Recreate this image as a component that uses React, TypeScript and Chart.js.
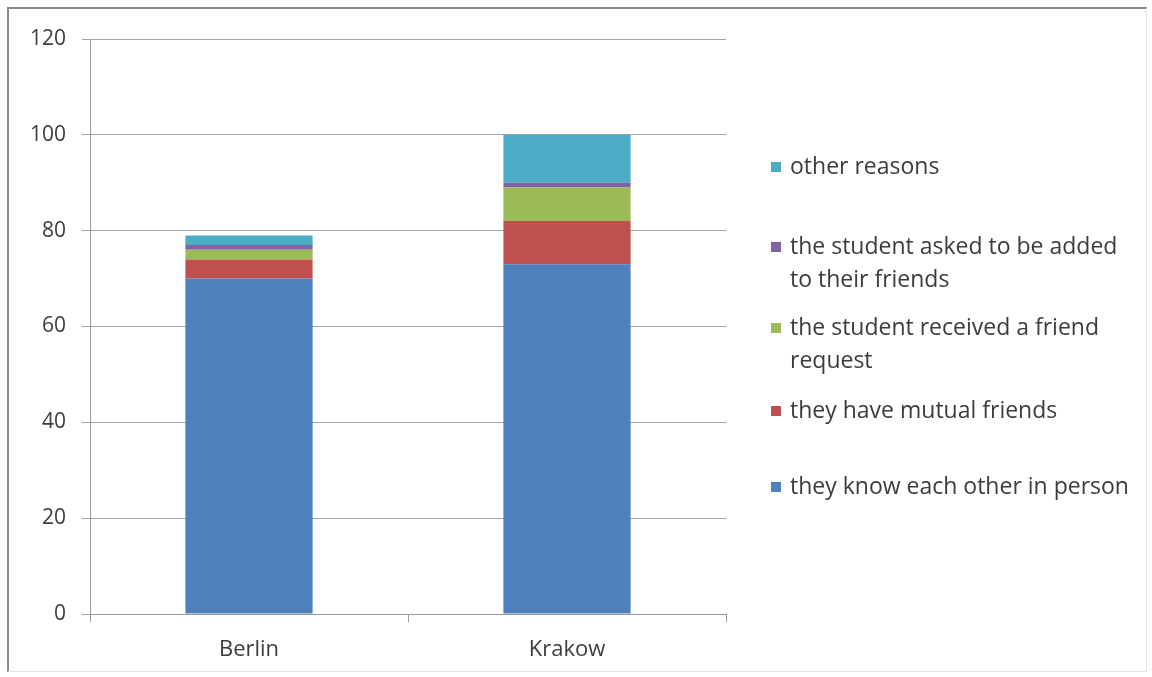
import React, { useEffect, useRef } from "react";
import { Chart, registerables } from "chart.js";

Chart.register(...registerables);

const categories = ["Berlin", "Krakow"];
const knowInPerson = [70, 73];
const mutualFriends = [4, 9];
const receivedRequest = [2, 7];
const askedToBeAdded = [1, 1];
const otherReasons = [2, 10];
const yTicks = [0, 20, 40, 60, 80, 100, 120];

const seriesNames = [
  "they know each other in person",
  "they have mutual friends",
  "the student received a friend request",
  "the student asked to be added to their friends",
  "other reasons",
];
const seriesColors = ["#4F81BD", "#C0504D", "#9BBB59", "#8064A2", "#4BACC6"];

// legend (top to bottom), wrapped lines
const legendEntries = [
  { color: "#4BACC6", lines: ["other reasons"] },
  { color: "#8064A2", lines: ["the student asked to be added", "to their friends"] },
  { color: "#9BBB59", lines: ["the student received a friend", "request"] },
  { color: "#C0504D", lines: ["they have mutual friends"] },
  { color: "#4F81BD", lines: ["they know each other in person"] },
];
const legendLineY = [[167], [247, 280], [328, 361], [411], [487]];

const FONT = "'Open Sans', 'DejaVu Sans', sans-serif";

export default function App() {
  const ref = useRef<HTMLCanvasElement | null>(null);

  useEffect(() => {
    document.body.style.margin = "0";
    const canvas = ref.current!;
    const legendPlugin = {
      id: "customLegend",
      afterDraw(chart: any) {
        const ctx = chart.ctx;
        ctx.save();
        ctx.font = `23px ${FONT}`;
        ctx.textBaseline = "middle";
        ctx.textAlign = "left";
        legendEntries.forEach((e, i) => {
          const ys = legendLineY[i];
          ctx.fillStyle = e.color;
          ctx.fillRect(771, ys[0] - 5, 10, 10);
          ctx.fillStyle = "#3c3c3c";
          e.lines.forEach((ln, j) => ctx.fillText(ln, 790, ys[j]));
        });
        ctx.restore();
      },
    };

    const data = [knowInPerson, mutualFriends, receivedRequest, askedToBeAdded, otherReasons];
    const chart = new Chart(canvas, {
      type: "bar",
      data: {
        labels: categories,
        datasets: data.map((d, i) => ({
          label: seriesNames[i],
          data: d,
          backgroundColor: seriesColors[i],
          borderWidth: 0,
          barPercentage: 0.4,
          categoryPercentage: 1,
        })),
      },
      options: {
        animation: false,
        responsive: false,
        maintainAspectRatio: false,
        layout: { padding: { top: 39, right: 426, left: 0, bottom: 0 } },
        plugins: { legend: { display: false }, tooltip: { enabled: false } },
        scales: {
          x: {
            stacked: true,
            grid: {
              drawOnChartArea: false,
              drawTicks: true,
              tickLength: 8,
              color: "#9a9a9a",
            },
            border: { color: "#9a9a9a" },
            ticks: {
              color: "#3c3c3c",
              font: { family: FONT, size: 22 },
              padding: 15,
            },
            afterFit(scale: any) {
              scale.height = 63;
            },
          },
          y: {
            stacked: true,
            min: 0,
            max: 120,
            afterBuildTicks(scale: any) {
              scale.ticks = yTicks.map((v) => ({ value: v }));
            },
            grid: {
              color: "#a6a6a6",
              tickLength: 8,
            },
            border: { color: "#9a9a9a" },
            ticks: {
              color: "#3c3c3c",
              font: { family: FONT, size: 21 },
              padding: 16,
            },
            afterFit(scale: any) {
              scale.width = 90;
            },
          },
        },
      },
      plugins: [legendPlugin],
    });
    return () => chart.destroy();
  }, []);

  return (
    <div style={{ position: "fixed", left: 0, top: 0, width: 1152, height: 677, background: "#fff" }}>
      <div
        style={{
          position: "absolute",
          left: 7,
          top: 7,
          width: 1137,
          height: 662,
          borderTop: "2px solid #8a8a8a",
          borderLeft: "2px solid #8a8a8a",
          borderRight: "1px solid #e4e4e4",
          borderBottom: "1px solid #e4e4e4",
        }}
      />
      <canvas ref={ref} width={1152} height={677} style={{ position: "absolute", left: 0, top: 0 }} />
    </div>
  );
}
